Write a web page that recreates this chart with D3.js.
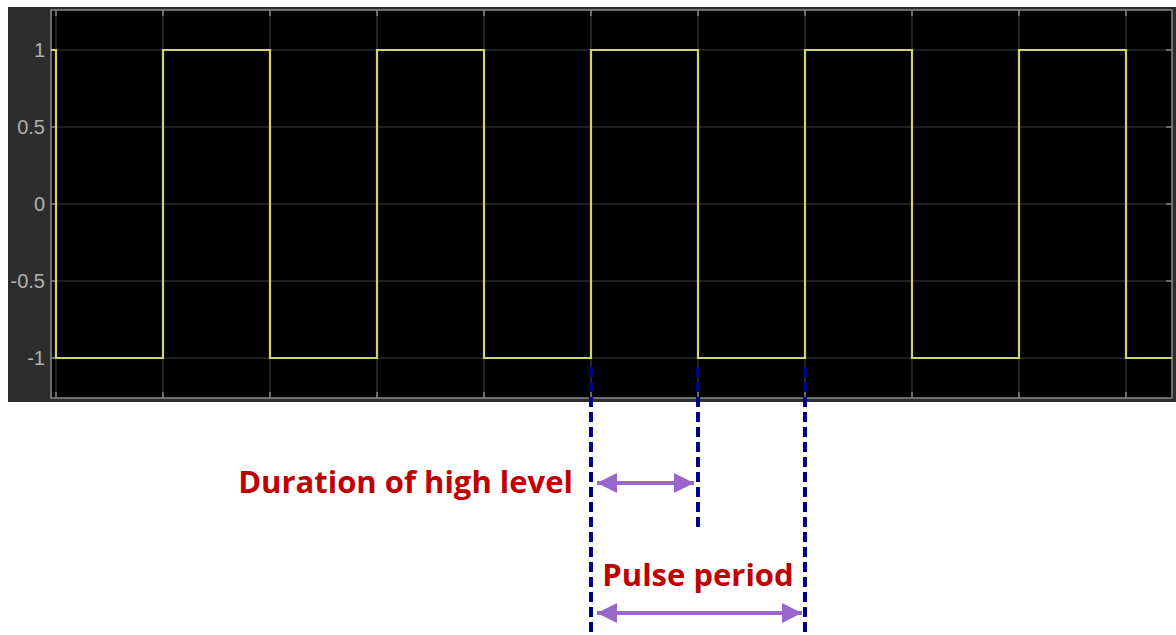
<!DOCTYPE html>
<html>
<head>
<meta charset="utf-8">
<script src="https://cdn.jsdelivr.net/npm/d3@7"></script>
<style>
  body { margin: 0; background: #fff; }
  svg { display: block; }
  .tick-label { font-family: "Liberation Sans", Arial, sans-serif; font-size: 20px; fill: #b0b0b0; }
  .note { font-family: "Open Sans", "Noto Sans", sans-serif; font-weight: bold; fill: #c00000; }
</style>
</head>
<body>
<svg id="chart" width="1176" height="635"></svg>
<script>
// square wave: level holds from each time until the next one
const signalTime = [-0.047, 0, 1, 2, 3, 4, 5, 6, 7, 8, 9, 10, 10.43];
const signalLevel = [1, -1, 1, -1, 1, -1, 1, -1, 1, -1, 1, -1, -1];
const xGrid = [0, 1, 2, 3, 4, 5, 6, 7, 8, 9, 10];
const yTicks = [1, 0.5, 0, -0.5, -1];
const yTickLabels = ['1', '0.5', '0', '-0.5', '-1'];
// annotation marks (in time units)
const periodStart = 5, highEnd = 6, periodEnd = 7;
const highLabel = 'Duration of high level';
const periodLabel = 'Pulse period';

const svg = d3.select('#chart');

const xScale = d3.scaleLinear().domain([0, 10]).range([56, 1126]);
const yScale = d3.scaleLinear().domain([-1, 1]).range([358, 50]);
const plotLeft = 51, plotRight = 1172, plotTop = 10, plotBottom = 398;

// scope window
svg.append('rect')
  .attr('x', 8).attr('y', 7)
  .attr('width', 1168).attr('height', 395)
  .attr('fill', '#2d2d2d');

svg.append('rect')
  .attr('x', plotLeft).attr('y', plotTop)
  .attr('width', plotRight - plotLeft).attr('height', plotBottom - plotTop)
  .attr('fill', '#000');

const g = svg.append('g');

g.selectAll('.vgrid').data(xGrid)
  .enter().append('line')
    .attr('x1', d => xScale(d)).attr('x2', d => xScale(d))
    .attr('y1', plotTop).attr('y2', plotBottom)
    .attr('stroke', '#3c3c3c').attr('stroke-width', 1.2);

g.selectAll('.hgrid').data(yTicks)
  .enter().append('line')
    .attr('x1', plotLeft).attr('x2', plotRight)
    .attr('y1', d => yScale(d)).attr('y2', d => yScale(d))
    .attr('stroke', '#3c3c3c').attr('stroke-width', 1.2);

// small ticks on top and bottom edges
xGrid.forEach(d => {
  g.append('line')
    .attr('x1', xScale(d)).attr('x2', xScale(d))
    .attr('y1', plotTop).attr('y2', plotTop + 6)
    .attr('stroke', '#9a9a9a').attr('stroke-width', 1.2);
  g.append('line')
    .attr('x1', xScale(d)).attr('x2', xScale(d))
    .attr('y1', plotBottom - 6).attr('y2', plotBottom)
    .attr('stroke', '#9a9a9a').attr('stroke-width', 1.2);
});
yTicks.forEach(d => {
  g.append('line')
    .attr('x1', plotLeft).attr('x2', plotLeft + 6)
    .attr('y1', yScale(d)).attr('y2', yScale(d))
    .attr('stroke', '#9a9a9a').attr('stroke-width', 1.2);
  g.append('line')
    .attr('x1', plotRight - 6).attr('x2', plotRight)
    .attr('y1', yScale(d)).attr('y2', yScale(d))
    .attr('stroke', '#9a9a9a').attr('stroke-width', 1.2);
});

g.append('rect')
  .attr('x', plotLeft).attr('y', plotTop)
  .attr('width', plotRight - plotLeft).attr('height', plotBottom - plotTop)
  .attr('fill', 'none')
  .attr('stroke', '#8a8a8a').attr('stroke-width', 1.5);

g.selectAll('.tick-label').data(yTicks)
  .enter().append('text')
    .attr('class', 'tick-label')
    .attr('x', 45)
    .attr('y', d => yScale(d))
    .attr('dy', '0.36em')
    .attr('text-anchor', 'end')
    .text((d, i) => yTickLabels[i]);

const signal = signalTime.map((t, i) => [t, signalLevel[i]]);
const line = d3.line()
  .x(d => xScale(d[0]))
  .y(d => yScale(d[1]))
  .curve(d3.curveStepAfter);

g.append('path')
  .datum(signal)
  .attr('d', line)
  .attr('fill', 'none')
  .attr('stroke', '#d2d36c')
  .attr('stroke-width', 2.2);

// annotations
const navy = '#00008b';
const purple = '#9966cc';

const markers = [
  { t: periodStart, y2: 635 },
  { t: highEnd, y2: 527 },
  { t: periodEnd, y2: 635 }
];
svg.selectAll('.marker').data(markers)
  .enter().append('line')
    .attr('x1', d => xScale(d.t)).attr('x2', d => xScale(d.t))
    .attr('y1', 367).attr('y2', d => d.y2)
    .attr('stroke', navy)
    .attr('stroke-width', 4)
    .attr('stroke-dasharray', '10,5');

const defs = svg.append('defs');
defs.append('marker')
  .attr('id', 'head')
  .attr('viewBox', '0 0 10 10')
  .attr('refX', 10).attr('refY', 5)
  .attr('markerWidth', 5).attr('markerHeight', 5)
  .attr('markerUnits', 'strokeWidth')
  .attr('orient', 'auto-start-reverse')
  .append('path')
    .attr('d', 'M0,0 L10,5 L0,10 z')
    .attr('fill', purple);

function arrow(x1, x2, y) {
  svg.append('line')
    .attr('x1', x1).attr('x2', x2)
    .attr('y1', y).attr('y2', y)
    .attr('stroke', purple)
    .attr('stroke-width', 4)
    .attr('marker-start', 'url(#head)')
    .attr('marker-end', 'url(#head)');
}
arrow(xScale(periodStart) + 6, xScale(highEnd) - 4, 483);
arrow(xScale(periodStart) + 6, xScale(periodEnd) - 3, 613);

svg.append('text')
  .attr('class', 'note')
  .attr('x', 573).attr('y', 482)
  .attr('dy', '0.36em')
  .attr('text-anchor', 'end')
  .style('font-size', '31px')
  .text(highLabel);

svg.append('text')
  .attr('class', 'note')
  .attr('x', (xScale(periodStart) + xScale(periodEnd)) / 2)
  .attr('y', 575)
  .attr('dy', '0.36em')
  .attr('text-anchor', 'middle')
  .style('font-size', '31px')
  .text(periodLabel);
</script>
</body>
</html>
